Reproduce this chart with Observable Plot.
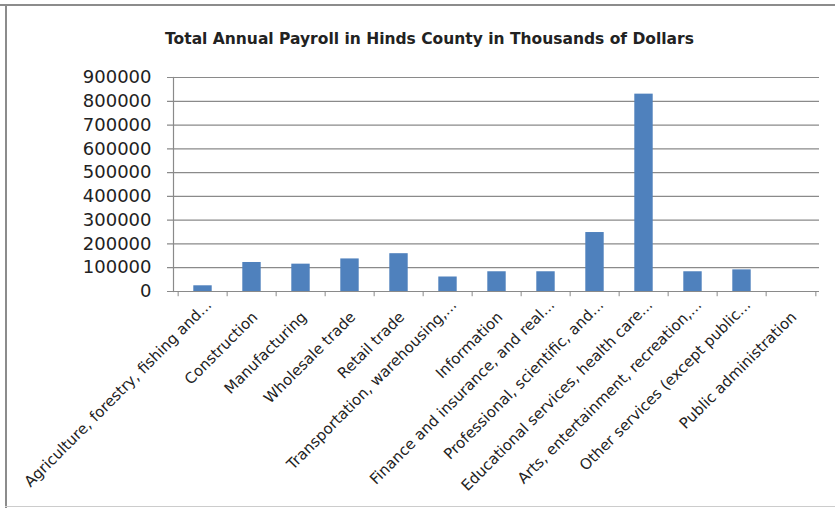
<!DOCTYPE html>
<html><head><meta charset="utf-8">
<script src="https://cdn.jsdelivr.net/npm/d3@7"></script>
<script src="https://cdn.jsdelivr.net/npm/@observablehq/plot@0.6"></script>
<style>
body{margin:0;background:#fff;}
#wrap{position:relative;width:835px;height:508px;overflow:hidden;font-family:"DejaVu Sans",sans-serif;background:#fff;}
.ln{position:absolute;background:#8c8c8c;}
#title{position:absolute;left:12px;width:835px;top:30px;text-align:center;font-weight:bold;font-size:15.5px;color:#222;}
#chart{position:absolute;left:0;top:0;}
</style></head><body>
<div id="wrap">
 <div id="chart"></div>
 <div id="title">Total Annual Payroll in Hinds County in Thousands of Dollars</div>
 <div class="ln" style="left:0;top:4px;width:835px;height:2px"></div>
 <div class="ln" style="left:5px;top:4px;width:2px;height:504px"></div>
 <div class="ln" style="left:5px;top:506px;width:830px;height:1px;background:#ccc"></div>
</div>
<script>
const categories = [
  "Agriculture, forestry, fishing and...",
  "Construction",
  "Manufacturing",
  "Wholesale trade",
  "Retail trade",
  "Transportation, warehousing,...",
  "Information",
  "Finance and insurance, and real...",
  "Professional, scientific, and...",
  "Educational services, health care...",
  "Arts, entertainment, recreation,...",
  "Other services (except public...",
  "Public administration"
];
const payroll = [24000, 122000, 115000, 137000, 159000, 61000, 83000, 83000, 248000, 830000, 83000, 91000, 0];
const yTicks = [0, 100000, 200000, 300000, 400000, 500000, 600000, 700000, 800000, 900000];

const data = categories.map((c, i) => ({category: c, value: payroll[i]}));
const W = 835, H = 508, ml = 173, mr = 16, mt = 77, mb = 217;
const bw = (W - ml - mr) / categories.length;
const grid = "#8a8a8a";
const truncated = data.filter(d => d.category.endsWith("..."));
const full = data.filter(d => !d.category.endsWith("..."));

const chart = Plot.plot({
  width: W, height: H,
  marginLeft: ml, marginRight: mr, marginTop: mt, marginBottom: mb,
  style: {fontFamily: "DejaVu Sans, sans-serif", background: "transparent"},
  x: {domain: categories, padding: 0, axis: null},
  y: {domain: [0, 900000], axis: null},
  marks: [
    Plot.gridY(yTicks, {stroke: grid, strokeOpacity: 1, strokeWidth: 1.2, insetLeft: -6}),
    Plot.axisY(yTicks, {tickSize: 0, tickPadding: 22, fontSize: 18, fill: "#222", label: null, tickFormat: d => String(d)}),
    Plot.barY(data, {x: "category", y: "value", fill: "#4F81BD", insetLeft: 15.3, insetRight: 15.3}),
    Plot.frame({anchor: "left", stroke: grid, strokeWidth: 1.2}),
    Plot.ruleY([0], {stroke: grid, strokeWidth: 1.2}),
    Plot.ruleX(categories, {x: d => d, y1: 0, y2: -22000, dx: -bw / 2, stroke: grid}),
    Plot.ruleX([categories[categories.length - 1]], {x: d => d, y1: 0, y2: -22000, dx: bw / 2, stroke: grid}),
    Plot.text(truncated, {x: "category", frameAnchor: "bottom", text: "category", rotate: -45, textAnchor: "end", lineAnchor: "middle", fontSize: 15, fill: "#222", dx: 6, dy: 11}),
    Plot.text(full, {x: "category", frameAnchor: "bottom", text: "category", rotate: -45, textAnchor: "end", lineAnchor: "middle", fontSize: 15, fill: "#222", dx: 3, dy: 23})
  ]
});
document.getElementById("chart").appendChild(chart);
</script>
</body></html>
